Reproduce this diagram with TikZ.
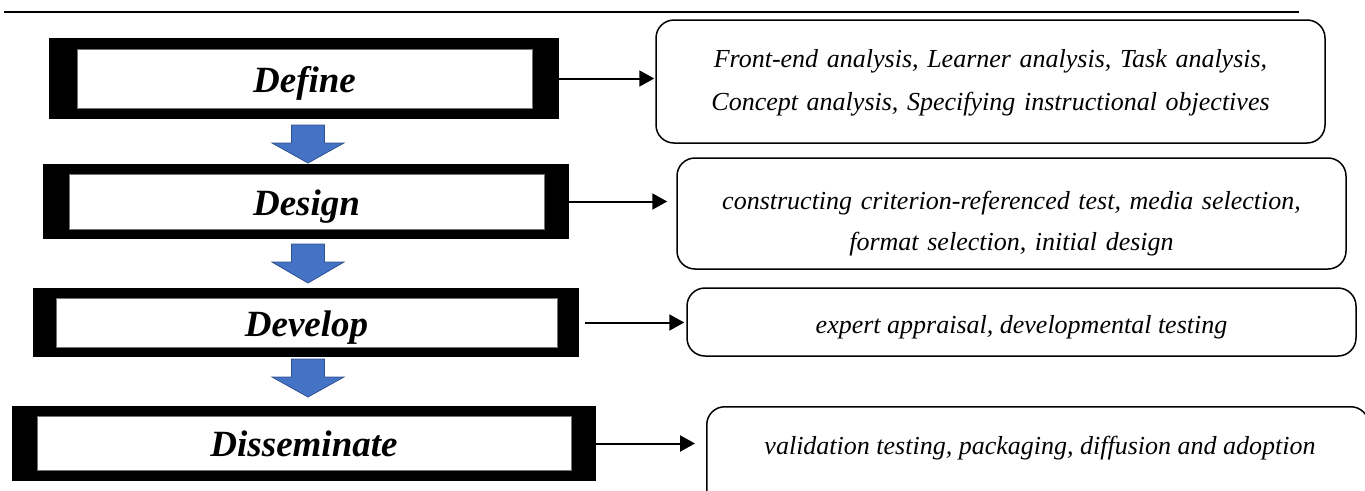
\documentclass[tikz,border=0pt]{standalone}
\usepackage{fontspec}
\setmainfont{Liberation Serif}
\usetikzlibrary{arrows.meta}

\definecolor{arrowblue}{HTML}{4472C4}
\definecolor{arrowedge}{HTML}{2F528F}

% downward block arrow: centre x, top y, neck y, tip y
\newcommand{\blockdown}[4]{%
  \filldraw[blockarrow] (#1-16.5,#2) -- (#1+16.5,#2) -- (#1+16.5,#3) --
    (#1+36,#3) -- (#1,#4) -- (#1-36,#3) -- (#1-16.5,#3) -- cycle;}

\tikzset{
  framebox/.style={fill=black, draw=none, inner sep=0pt},
  stagebox/.style={fill=white, draw=black!55, line width=0.4pt, inner sep=0pt,
    text height=30pt, text depth=3pt,
    font=\fontsize{37}{44}\selectfont\bfseries\itshape},
  rbox/.style={draw=black, line width=1.5pt, rounded corners=18pt, fill=white,
    inner sep=0pt, align=center},
  rtext/.style={font=\fontsize{26}{34}\selectfont\itshape, align=center},
  conn/.style={line width=2pt, -{Triangle[length=15pt,width=16pt]}},
  blockarrow/.style={fill=arrowblue, draw=arrowedge, line width=0.8pt},
}

\begin{document}
\begin{tikzpicture}[x=1pt, y=-1pt]
\useasboundingbox (0,0) rectangle (1365,490);
\clip (0,0) rectangle (1365,490);

% rule across the top
\draw[line width=2.5pt] (4,12) coordinate (ruleL) -- (1299,12) coordinate (ruleR);

% stage boxes: thick black frame with a white panel
\node[framebox, minimum width=510pt, minimum height=81pt] (define) at (304,78.5) {};
\node[stagebox, minimum width=455pt, minimum height=59pt] (defineT) at (304.5,78.5) {Define};

\node[framebox, minimum width=526pt, minimum height=75pt] (design) at (306,201.5) {};
\node[stagebox, minimum width=475pt, minimum height=55pt] (designT) at (306.5,201.5) {Design};

\node[framebox, minimum width=546pt, minimum height=69pt] (develop) at (306,322.5) {};
\node[stagebox, minimum width=501pt, minimum height=49pt] (developT) at (306.5,322.5) {Develop};

\node[framebox, minimum width=584pt, minimum height=75pt] (dissem) at (304,443.5) {};
\node[stagebox, minimum width=534pt, minimum height=54pt] (dissemT) at (304,443) {Disseminate};

% blue arrows between stages
\blockdown{308}{125}{143}{163}
\blockdown{308}{244}{262}{283}
\blockdown{308}{359}{377}{397}

% activity boxes
\node[rbox, minimum width=669pt, minimum height=123pt] (act1) at (990.5,81.5) {};
\node[rtext, text width=660pt, font=\fontsize{26}{43}\selectfont\itshape] (act1T) at (990.5,83)
  {Front-end analysis, Learner analysis, Task analysis,\\
   Concept analysis, Specifying instructional objectives};

\node[rbox, minimum width=669pt, minimum height=111pt] (act2) at (1011.5,213.5) {};
\node[rtext, text width=660pt, font=\fontsize{26}{41}\selectfont\itshape] (act2T) at (1011.5,223.5)
  {constructing criterion-referenced test, media selection,\\
   format selection, initial design};

\node[rbox, minimum width=669pt, minimum height=68pt] (act3) at (1021.5,322) {};
\node[rtext] (act3T) at (1021.5,327) {expert appraisal, developmental testing};

\node[rbox, minimum width=662pt, minimum height=124pt, anchor=north west] (act4) at (706,406) {};
\node[rtext] (act4T) at (1040,448) {validation testing, packaging, diffusion and adoption};

% connectors from stages to activities
\draw[conn, shorten >=1pt] (define.east) -- (define.east -| act1.west);
\draw[conn, shorten >=9pt] (design.east) -- (design.east -| act2.west);
\draw[conn, shorten <=6pt, shorten >=2pt] (develop.east) -- (develop.east -| act3.west);
\draw[conn, shorten >=11pt] (dissem.east) -- (dissem.east -| act4.west);
\end{tikzpicture}
\end{document}
